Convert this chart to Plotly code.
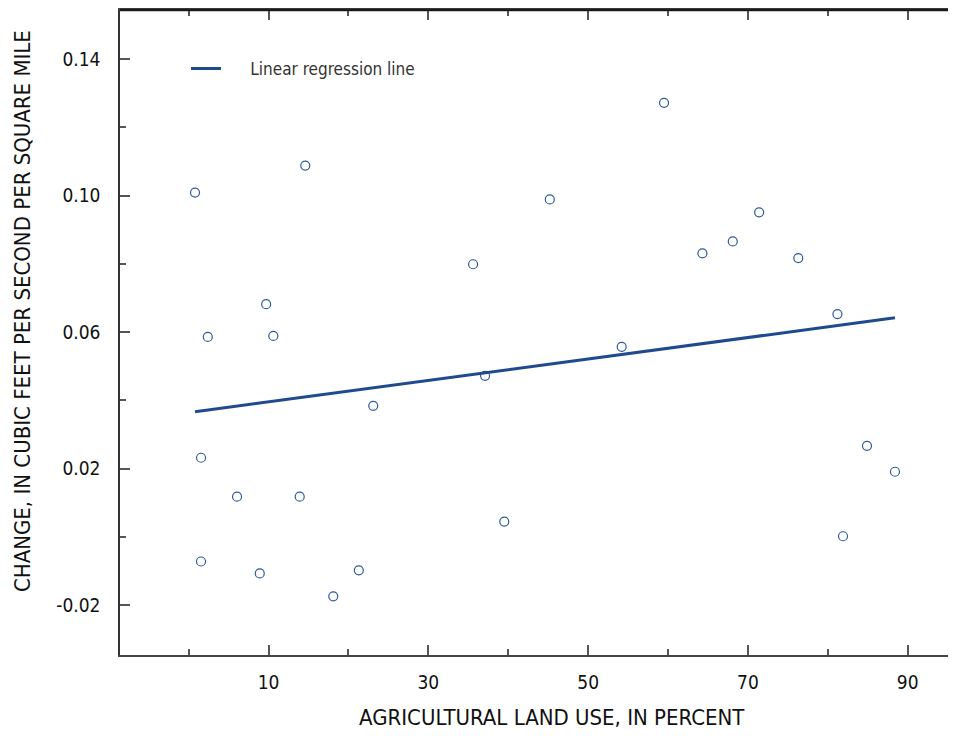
import plotly.graph_objects as go

# Data
ag_land_use = [0.8, 1.55, 1.55, 2.4, 6.06, 8.9, 9.7, 10.6, 13.9, 14.6, 18.1, 21.3, 23.1,
               35.6, 37.1, 39.5, 45.2, 54.2, 59.5, 64.3, 68.1, 71.4, 76.3, 81.2, 81.9, 84.9, 88.4]
change = [0.1009, 0.0232, -0.0072, 0.0586, 0.0118, -0.0107, 0.0682, 0.0589, 0.0118, 0.1088,
          -0.0174, -0.0098, 0.0384, 0.0799, 0.0472, 0.0045, 0.0989, 0.0557, 0.1272, 0.0831,
          0.0866, 0.0951, 0.0817, 0.0653, 0.0002, 0.0267, 0.0191]
reg_x = [0.8, 88.4]
reg_y = [0.0367, 0.0642]

x_tickvals = [10, 30, 50, 70, 90]
x_ticktext = ["10", "30", "50", "70", "90"]
x_minorvals = [0, 20, 40, 60, 80]
y_tickvals = [-0.02, 0.02, 0.06, 0.10, 0.14]
y_ticktext = ["-0.02", "0.02", "0.06", "0.10", "0.14"]
y_minorvals = [0.0, 0.04, 0.08, 0.12]

FONT = "Liberation Sans Narrow, DejaVu Sans Condensed, Arial Narrow, sans-serif"
BLUE = "#1f4b8e"
NB = "\u00a0"

fig = go.Figure()
fig.add_trace(go.Scatter(
    x=ag_land_use, y=change, mode="markers", showlegend=False,
    marker=dict(symbol="circle-open", size=9, color="#2d5a9c", line=dict(width=1.2)),
))
fig.add_trace(go.Scatter(
    x=reg_x, y=reg_y, mode="lines", name=NB * 5 + "Linear regression line",
    line=dict(color=BLUE, width=3),
))

# page body has an 8px margin; figure sized so the page fits the 956x745 window
fig.update_layout(
    width=948, height=725,
    margin=dict(l=112, r=0, t=0, b=78),
    paper_bgcolor="white", plot_bgcolor="white",
    font=dict(family=FONT, size=18, color="#111"),
    showlegend=True,
    legend=dict(x=(186 - 120) / 836, y=1 - (49 - 8) / 647, xanchor="left", yanchor="top",
                bgcolor="rgba(0,0,0,0)", borderwidth=0,
                font=dict(size=17, color="#333")),
    annotations=[
        dict(text="AGRICULTURAL LAND USE, IN PERCENT", xref="paper", yref="paper",
             x=(552 - 120) / 836, y=-(718 - 655) / 647, xanchor="center", yanchor="middle",
             showarrow=False, font=dict(size=22, color="#111")),
        dict(text="CHANGE, IN CUBIC FEET PER SECOND PER SQUARE MILE", xref="paper", yref="paper",
             x=-(120 - 22) / 836, y=(655 - 310) / 647, xanchor="center", yanchor="middle",
             textangle=-90, showarrow=False, font=dict(size=22, color="#111")),
    ],
    shapes=[dict(type="line", xref="paper", yref="paper", x0=0, x1=1, y0=1, y1=1,
                 line=dict(color="#1a1a1a", width=2.5))],
)

fig.update_xaxes(
    range=[-8.59, 96.04], showgrid=False, zeroline=False,
    showline=True, linecolor="#444", linewidth=1.5, mirror="ticks",
    tickmode="array", tickvals=x_tickvals, ticktext=x_ticktext,
    ticks="inside", ticklen=10, tickcolor="#555", tickwidth=1.5,
    tickfont=dict(size=19, color="#111"), ticklabelstandoff=9,
    minor=dict(tickmode="array", tickvals=x_minorvals, ticks="inside", ticklen=6,
               tickcolor="#555", tickwidth=1.5, showgrid=False),
)
fig.update_yaxes(
    range=[-0.0346, 0.1544], showgrid=False, zeroline=False,
    showline=True, linecolor="#333", linewidth=1.5, mirror=False,
    tickmode="array", tickvals=y_tickvals, ticktext=y_ticktext,
    ticks="inside", ticklen=10, tickcolor="#555", tickwidth=1.5,
    tickfont=dict(size=19, color="#111"), ticklabelstandoff=14,
    minor=dict(tickmode="array", tickvals=y_minorvals, ticks="inside", ticklen=6,
               tickcolor="#555", tickwidth=1.5, showgrid=False),
)

fig.write_html("out.html")
